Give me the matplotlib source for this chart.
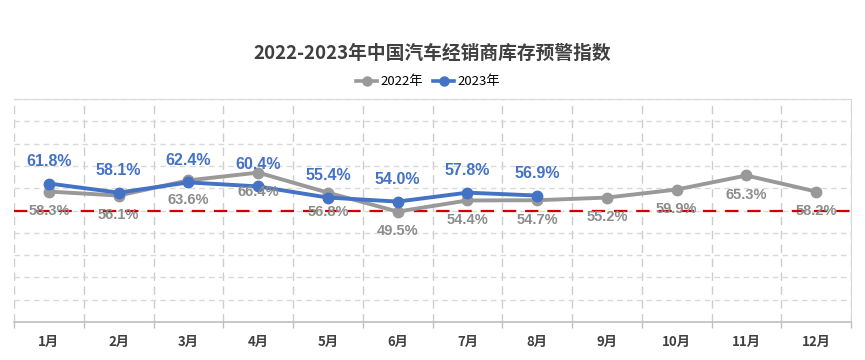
import matplotlib
matplotlib.use("Agg")
import matplotlib.pyplot as plt
from matplotlib.lines import Line2D
import numpy as np

plt.rcParams['font.family'] = ['Noto Sans CJK SC', 'DejaVu Sans']

months = ['1月', '2月', '3月', '4月', '5月', '6月', '7月', '8月', '9月', '10月', '11月', '12月']
values_2022 = [58.3, 56.1, 63.6, 66.4, 56.8, 49.5, 54.4, 54.7, 55.2, 59.9, 65.3, 58.2]
values_2023 = [61.8, 58.1, 62.4, 60.4, 55.4, 54.0, 57.8, 56.9]
# plotted positions (labels in the source do not always match the drawn point heights)
points_2022 = [58.5, 56.7, 63.5, 67.0, 58.0, 49.5, 54.5, 54.6, 55.8, 59.4, 65.7, 58.5]
points_2023 = [62.1, 58.0, 62.6, 60.8, 55.8, 54.0, 58.0, 56.7]
threshold = 50

C22 = '#999999'
C22T = '#8c8c8c'
C23 = '#4472C4'
num_font = ['Liberation Sans', 'DejaVu Sans']

fig = plt.figure(figsize=(8.65, 3.6), dpi=100)
W, H = 865, 360
ax = fig.add_axes([14 / W, (H - 322) / H, (851 - 14) / W, (322 - 99) / H])

x22 = np.arange(len(points_2022))
x23 = np.arange(len(points_2023))

ax.axhline(threshold, color='#D00000', lw=1.6, ls=(0, (6, 4)), zorder=2)
ax.plot(x22, points_2022, color=C22, lw=2.8, marker='o', ms=7.5, zorder=3)
ax.plot(x23, points_2023, color=C23, lw=2.8, marker='o', ms=7.5, zorder=4)

for xi, yp, v in zip(x22, points_2022, values_2022):
    ax.annotate(f'{v:.1f}%', (xi, yp), xytext=(0, -14), textcoords='offset points',
                ha='center', va='center', color=C22T, fontsize=10.5, fontweight='bold',
                family=num_font, zorder=5)
for xi, yp, v in zip(x23, points_2023, values_2023):
    ax.annotate(f'{v:.1f}%', (xi, yp), xytext=(0, 16), textcoords='offset points',
                ha='center', va='center', color=C23, fontsize=11.5, fontweight='bold',
                family=num_font, zorder=5)

ax.set_xlim(-0.5, len(months) - 0.5)
ax.set_ylim(0, 100)
ax.set_xticks(np.arange(len(months)))
ax.set_xticklabels(months, fontsize=9.5, fontweight='bold', color='#404040')
ax.set_xticks(np.arange(-0.5, len(months)), minor=True)
ax.tick_params(axis='x', which='major', length=0, pad=9)
ax.tick_params(axis='x', which='minor', length=4, color='#bfbfbf', width=1)
ax.set_yticks(np.arange(0, 101, 10))
ax.tick_params(axis='y', length=0, labelleft=False)
ax.grid(axis='y', which='major', color='#d9d9d9', ls=(0, (4, 3)), lw=1)
ax.grid(axis='x', which='minor', color='#cccccc', ls=(0, (6, 4)), lw=1)
ax.set_axisbelow(True)
ax.spines['left'].set_visible(False)
ax.spines['top'].set_color('#d9d9d9')
ax.spines['right'].set_color('#d9d9d9')
ax.spines['bottom'].set_color('#bfbfbf')
ax.spines['bottom'].set_linewidth(1.2)

fig.text(0.5, (H - 53) / H, '2022-2023年中国汽车经销商库存预警指数', ha='center', va='center',
         fontsize=13.5, fontweight='bold', color='#404040')

handles = [Line2D([], [], color=C22, lw=2.6, marker='o', ms=6.5),
           Line2D([], [], color=C23, lw=2.6, marker='o', ms=6.5)]
fig.legend(handles, ['2022年', '2023年'], loc='center', bbox_to_anchor=(428 / W, (H - 82) / H),
           ncol=2, frameon=False, fontsize=9.5, handlelength=1.6, handletextpad=0.2,
           columnspacing=0.8)

fig.savefig('out.png', dpi=100, facecolor='white')
